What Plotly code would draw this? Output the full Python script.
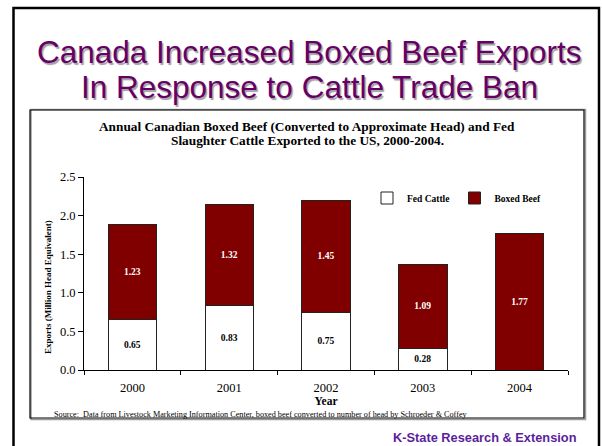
import plotly.graph_objects as go

years = ["2000", "2001", "2002", "2003", "2004"]
fed_cattle = [0.65, 0.83, 0.75, 0.28, 0.0]
boxed_beef = [1.23, 1.32, 1.45, 1.09, 1.77]
y_ticks = [0.0, 0.5, 1.0, 1.5, 2.0, 2.5]

W, H = 602, 446
L, T, PW, PH = 84, 177, 484, 193


def px(x):
    return (x - L) / PW


def py(y):
    return (T + PH - y) / PH


SERIF = "Liberation Serif, Times New Roman, serif"
SANS = "Liberation Sans, Arial, sans-serif"

fig = go.Figure()
fig.add_trace(go.Bar(
    x=years, y=fed_cattle, name="Fed Cattle",
    marker=dict(color="white", line=dict(color="#222222", width=1)),
    text=[f"{v:.2f}" if v > 0 else "" for v in fed_cattle],
    textposition="inside", insidetextanchor="middle",
    textfont=dict(family=SERIF, size=9.5, color="black", weight="bold"),
    constraintext="none",
))
fig.add_trace(go.Bar(
    x=years, y=boxed_beef, name="Boxed Beef",
    marker=dict(color="#800000", line=dict(color="#222222", width=1)),
    text=[f"{v:.2f}" for v in boxed_beef],
    textposition="inside", insidetextanchor="middle",
    textfont=dict(family=SERIF, size=9.5, color="white", weight="bold"),
    constraintext="none",
))

fig.update_layout(
    width=W, height=H,
    margin=dict(l=L, r=W - L - PW, t=T, b=H - T - PH),
    paper_bgcolor="white", plot_bgcolor="white",
    barmode="stack", bargap=0.5,
    showlegend=True,
    legend=dict(orientation="h", x=px(546), y=py(198), xanchor="right", yanchor="middle",
                font=dict(family=SERIF, size=9.5, color="black", weight="bold"),
                bgcolor="rgba(0,0,0,0)", itemwidth=30, traceorder="normal"),
    xaxis=dict(
        showline=True, linecolor="black", linewidth=1, ticks="outside", ticklen=4,
        tickcolor="black", tickson="boundaries", showgrid=False,
        ticklabelstandoff=6,
        tickfont=dict(family=SERIF, size=12.5, color="black"),
        title=dict(text="Year", font=dict(family=SERIF, size=11.5, color="black", weight="bold"), standoff=2),
    ),
    yaxis=dict(
        range=[0, 2.5], tickvals=y_ticks, ticktext=[f"{v:.1f}" for v in y_ticks],
        showline=True, linecolor="black", linewidth=1, ticks="outside", ticklen=5,
        tickcolor="black", showgrid=False, zeroline=False,
        tickfont=dict(family=SERIF, size=12.5, color="black"),
    ),
)

# y-axis title
fig.add_annotation(text="<b>Exports (Million Head Equivalent)</b>", textangle=-90,
                   xref="paper", yref="paper", x=px(48), y=py(287),
                   xanchor="center", yanchor="middle", showarrow=False,
                   font=dict(family=SERIF, size=9, color="black"))

# slide frame and chart box
fig.add_shape(type="rect", xref="paper", yref="paper",
              x0=px(13.5), x1=px(599), y0=py(460), y1=py(8),
              line=dict(color="black", width=2.5), layer="below")
fig.add_shape(type="rect", xref="paper", yref="paper",
              x0=px(31), x1=px(585.5), y0=py(419.5), y1=py(109.5),
              line=dict(color="#9a9a9a", width=1.5), layer="below")
fig.add_shape(type="rect", xref="paper", yref="paper",
              x0=px(30), x1=px(584), y0=py(418), y1=py(110),
              line=dict(color="black", width=1.2), layer="below")

# slide title
for txt, yy in [("Canada Increased Boxed Beef Exports", 52), ("In Response to Cattle Trade Ban", 87)]:
    fig.add_annotation(text=txt, xref="paper", yref="paper", x=px(309), y=py(yy),
                       xanchor="center", yanchor="middle", showarrow=False,
                       font=dict(family=SANS, size=31.5, color="#660066",
                                 shadow="1.5px 1.5px 1px #a0a0a0"))

# chart title
fig.add_annotation(text="Annual Canadian Boxed Beef (Converted to Approximate Head) and Fed",
                   xref="paper", yref="paper", x=px(307), y=py(126), xanchor="center",
                   yanchor="middle", showarrow=False,
                   font=dict(family=SERIF, size=13.3, color="black", weight="bold"))
fig.add_annotation(text="Slaughter Cattle Exported to the US, 2000-2004.",
                   xref="paper", yref="paper", x=px(307), y=py(140), xanchor="center",
                   yanchor="middle", showarrow=False,
                   font=dict(family=SERIF, size=13.3, color="black", weight="bold"))

# source
fig.add_annotation(text="Source:  Data from Livestock Marketing Information Center, boxed beef converted to number of head by Schroeder &amp; Coffey",
                   xref="paper", yref="paper", x=px(52), y=py(414), xanchor="left",
                   yanchor="middle", showarrow=False,
                   font=dict(family=SERIF, size=8.2, color="black"))

# footer
fig.add_annotation(text="<b>K-State Research &amp; Extension</b>",
                   xref="paper", yref="paper", x=px(579), y=py(437), xanchor="right",
                   yanchor="middle", showarrow=False,
                   font=dict(family=SANS, size=12.8, color="#5a1e9e"))

fig.write_html("out.html")
